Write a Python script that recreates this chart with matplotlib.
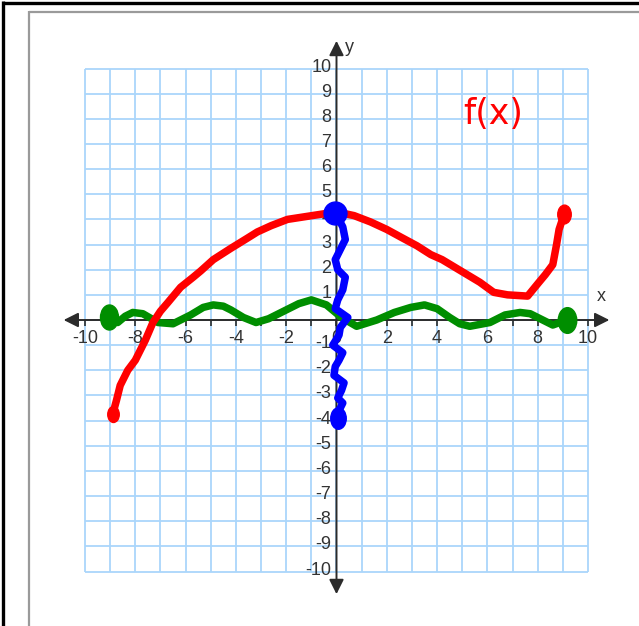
import numpy as np
import matplotlib
matplotlib.use("Agg")
import matplotlib.pyplot as plt
from matplotlib.lines import Line2D
from matplotlib.path import Path
from matplotlib.transforms import Affine2D

# ===== Curve data =====
red_x = [-8.9, -8.75, -8.6, -8.3, -8.0, -7.6, -7.3, -7.0, -6.7, -6.2, -5.7, -5.4, -4.9,
         -4.2, -3.55, -3.15, -2.6, -1.95, -1.3, -0.65, 0.0, 0.7, 1.35, 2.0, 2.55, 3.2,
         3.75, 4.2, 4.7, 5.2, 5.7, 6.25, 6.8, 7.6, 8.05, 8.3, 8.6, 8.75, 8.85, 9.05]
red_y = [-3.75, -3.2, -2.6, -2.0, -1.6, -0.8, -0.1, 0.35, 0.7, 1.3, 1.7, 1.95, 2.4,
         2.85, 3.25, 3.5, 3.75, 4.0, 4.1, 4.2, 4.3, 4.15, 3.9, 3.6, 3.3, 2.95,
         2.6, 2.4, 2.1, 1.8, 1.5, 1.1, 1.0, 0.95, 1.5, 1.8, 2.2, 3.0, 3.6, 4.2]

green_x = [-9.05, -8.7, -8.4, -8.1, -7.7, -7.1, -6.5, -5.8, -5.3, -4.9, -4.5, -4.2, -3.7,
           -3.2, -2.7, -2.2, -1.5, -1.0, -0.4, 0.2, 0.8, 1.6, 2.3, 2.95, 3.5, 4.0, 4.5,
           4.9, 5.3, 6.1, 6.7, 7.3, 7.7, 8.1, 8.6, 9.15]
green_y = [0.1, -0.1, 0.15, 0.3, 0.25, -0.1, -0.15, 0.2, 0.5, 0.6, 0.55, 0.4, 0.1,
           -0.1, 0.05, 0.3, 0.65, 0.8, 0.6, 0.1, -0.25, 0.0, 0.3, 0.5, 0.6, 0.45, 0.1,
           -0.15, -0.25, -0.1, 0.2, 0.3, 0.25, 0.05, -0.2, 0.0]

blue_x = [-0.04, 0.25, 0.35, 0.15, -0.05, 0.05, 0.35, 0.25, 0.05, -0.05, 0.45, 0.15,
          0.1, -0.15, 0.25, 0.1, -0.05, -0.1, 0.3, 0.2, 0.05, 0.25, 0.1, 0.05]
blue_y = [4.25, 3.7, 3.2, 2.8, 2.4, 2.0, 1.7, 1.2, 0.8, 0.45, 0.1, -0.3,
          -0.6, -1.0, -1.3, -1.6, -1.85, -2.2, -2.5, -2.8, -3.1, -3.3, -3.6, -3.9]

x_tick_labels = [-10, -8, -6, -4, -2, 0, 2, 4, 6, 8, 10]
y_tick_labels = [10, 9, 8, 7, 6, 5, 4, 3, 2, 1, -1, -2, -3, -4, -5, -6, -7, -8, -9, -10]

W, H = 639, 626
fig = plt.figure(figsize=(W / 100, H / 100), dpi=100)
ax = fig.add_axes([0, 0, 1, 1])
ax.set_axis_off()

# pixel layout: x=-10 at 85px, 25.15 px per unit, origin row at 320px
ppu = 25.15
ax.set_xlim(-10 - 85 / ppu, -10 + (W - 85) / ppu)
ax.set_ylim(-(H - 320) / ppu, 320 / ppu)

# page borders
def px_line(xs, ys, color, lw):
    fig.add_artist(Line2D([x / W for x in xs], [1 - y / H for y in ys],
                          color=color, lw=lw, transform=fig.transFigure,
                          solid_capstyle="butt"))

px_line([2.5, W], [2.5, 2.5], "black", 2.4)
px_line([2.5, 2.5], [1.3, H], "black", 2.4)
px_line([29, W], [11.5, 11.5], "#9a9a9a", 1.6)
px_line([29, 29], [10.8, H], "#9a9a9a", 1.6)

# graph paper
grid = np.arange(-10, 11)
grid_col = "#aad6fb"
ax.vlines(grid, -10, 10, color=grid_col, lw=1.3, zorder=1)
ax.hlines(grid, -10, 10, color=grid_col, lw=1.3, zorder=1)

# axes with arrowheads
axis_col = "#2b2b2b"
ax.annotate("", xy=(10.85, 0), xytext=(-10.85, 0),
            arrowprops=dict(arrowstyle="<|-|>", mutation_scale=22, lw=1.4,
                            color=axis_col, shrinkA=0, shrinkB=0), zorder=2)
ax.annotate("", xy=(0, 11.1), xytext=(0, -10.9),
            arrowprops=dict(arrowstyle="<|-|>", mutation_scale=22, lw=1.4,
                            color=axis_col, shrinkA=0, shrinkB=0), zorder=2)
ax.vlines(grid, -0.22, 0, color=axis_col, lw=1.2, zorder=2)

lab_font = dict(family="Liberation Sans", fontsize=13, color="#333333")
for v in x_tick_labels:
    ax.text(v, -0.92, str(v), ha="center", va="baseline", zorder=2, **lab_font)
for v in y_tick_labels:
    ax.text(-0.2, v - 0.12, str(v), ha="right", va="baseline", zorder=2, **lab_font)
ax.text(10.54, 0.95, "x", ha="center", va="center", zorder=2, **lab_font)
ax.text(0.5, 10.85, "y", ha="center", va="center", zorder=2, **lab_font)

ax.text(6.22, 8.21, "f(x)", ha="center", va="center", fontsize=25,
        color="#ff0000", family="DejaVu Sans", zorder=3)

# the three sketched curves
tall = Path.unit_circle().transformed(Affine2D().scale(0.72, 1.0))
curve_kw = dict(lw=5.4, solid_capstyle="round", solid_joinstyle="round")

ax.plot(green_x, green_y, color="#008e00", zorder=4, **curve_kw)
ax.plot([green_x[0]], [green_y[0]], marker=tall, ms=18, color="#008e00", zorder=4)
ax.plot([green_x[-1]], [green_y[-1]], marker=tall, ms=18.5, color="#008e00", zorder=4)

ax.plot(red_x, red_y, color="#ff0000", zorder=5, **curve_kw)
ax.plot([red_x[0]], [red_y[0]], marker=tall, ms=11.5, color="#ff0000", zorder=5)
ax.plot([red_x[-1]], [red_y[-1]], marker=tall, ms=13.5, color="#ff0000", zorder=5)

ax.plot(blue_x, blue_y, color="#0000ff", zorder=6, **curve_kw)
ax.plot([blue_x[0]], [blue_y[0]], marker="o", ms=16.5, color="#0000ff", zorder=6)
ax.plot([blue_x[-1]], [blue_y[-1]], marker=tall, ms=15.5, color="#0000ff", zorder=6)

fig.savefig("out.png", dpi=100)
